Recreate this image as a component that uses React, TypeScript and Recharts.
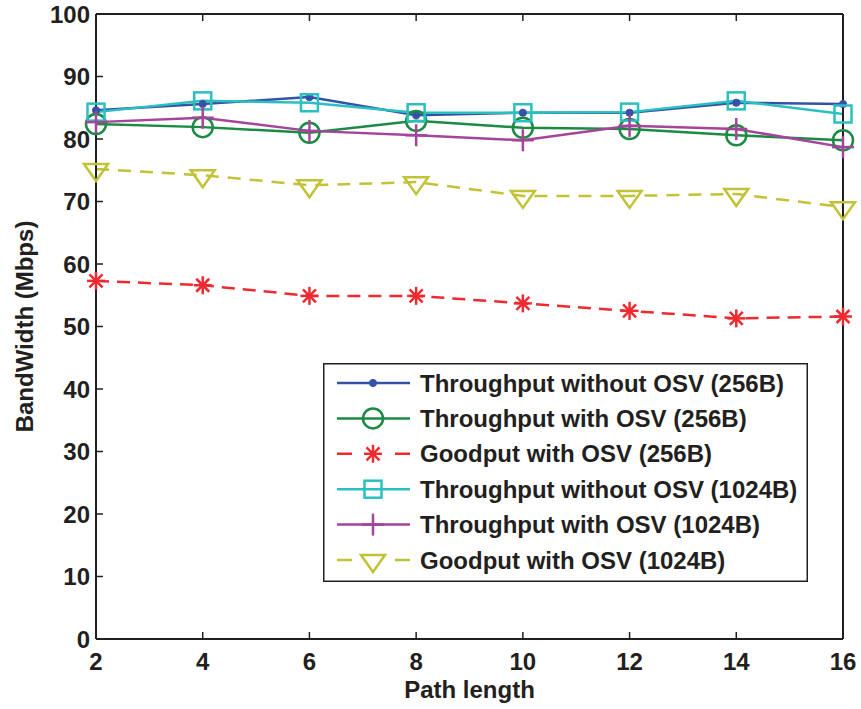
import React from 'react';
import { LineChart, Line, XAxis, YAxis, Legend } from 'recharts';

const pathLength = [2, 4, 6, 8, 10, 12, 14, 16];
const xTicks = [2, 4, 6, 8, 10, 12, 14, 16];
const yTicks = [0, 10, 20, 30, 40, 50, 60, 70, 80, 90, 100];

const tputNoOsv256 = [84.6, 85.6, 86.7, 83.8, 84.2, 84.2, 85.8, 85.6];
const tputOsv256 = [82.4, 81.9, 81.0, 82.9, 81.8, 81.6, 80.6, 79.8];
const goodOsv256 = [57.3, 56.6, 54.9, 54.9, 53.7, 52.5, 51.3, 51.6];
const tputNoOsv1024 = [84.3, 86.1, 85.8, 84.2, 84.2, 84.3, 86.1, 84.0];
const tputOsv1024 = [82.7, 83.4, 81.3, 80.6, 79.8, 82.1, 81.6, 78.7];
const goodOsv1024 = [75.2, 74.2, 72.6, 73.1, 70.9, 70.9, 71.2, 69.1];

const data = pathLength.map((p, i) => ({
  p,
  a: tputNoOsv256[i],
  b: tputOsv256[i],
  c: goodOsv256[i],
  d: tputNoOsv1024[i],
  e: tputOsv1024[i],
  f: goodOsv1024[i],
}));

const series = [
  { key: 'a', name: 'Throughput without OSV (256B)', color: '#3553a6', shape: 'dot', dash: undefined },
  { key: 'b', name: 'Throughput with OSV (256B)', color: '#1b8a43', shape: 'circle', dash: undefined },
  { key: 'c', name: 'Goodput with OSV (256B)', color: '#ee2a30', shape: 'star', dash: '13 8' },
  { key: 'd', name: 'Throughput without OSV (1024B)', color: '#2bbfc1', shape: 'square', dash: undefined },
  { key: 'e', name: 'Throughput with OSV (1024B)', color: '#a5449b', shape: 'plus', dash: undefined },
  { key: 'f', name: 'Goodput with OSV (1024B)', color: '#c2c236', shape: 'tri', dash: '13 9' },
];

const ink = '#231f20';
const font = '"Liberation Sans", Arial, Helvetica, sans-serif';

function marker(shape: string, cx: number, cy: number, color: string, key?: any) {
  const sw = 2.5;
  switch (shape) {
    case 'dot':
      return <circle key={key} cx={cx} cy={cy} r={3.6} fill={color} stroke={color} strokeWidth={1} />;
    case 'circle':
      return <circle key={key} cx={cx} cy={cy} r={10} fill="none" stroke={color} strokeWidth={sw} />;
    case 'square':
      return <rect key={key} x={cx - 8.5} y={cy - 8.5} width={17} height={17} fill="none" stroke={color} strokeWidth={sw} />;
    case 'plus':
      return (
        <g key={key} stroke={color} strokeWidth={sw}>
          <line x1={cx} y1={cy - 11} x2={cx} y2={cy + 11} />
          <line x1={cx - 11} y1={cy} x2={cx + 11} y2={cy} />
        </g>
      );
    case 'star':
      return (
        <g key={key} stroke={color} strokeWidth={sw}>
          <line x1={cx} y1={cy - 9} x2={cx} y2={cy + 9} />
          <line x1={cx - 9} y1={cy} x2={cx + 9} y2={cy} />
          <line x1={cx - 6.5} y1={cy - 6.5} x2={cx + 6.5} y2={cy + 6.5} />
          <line x1={cx - 6.5} y1={cy + 6.5} x2={cx + 6.5} y2={cy - 6.5} />
        </g>
      );
    case 'tri':
      return (
        <polygon
          key={key}
          points={`${cx - 12},${cy - 5} ${cx + 12},${cy - 5} ${cx},${cy + 12}`}
          fill="none"
          stroke={color}
          strokeWidth={sw}
          strokeLinejoin="miter"
        />
      );
    default:
      return <g key={key} />;
  }
}

const tickStyle = { fill: ink, fontSize: 24, fontWeight: 700, fontFamily: font };

const LegendBox = () => {
  const rowY = [20, 55.4, 90.8, 126.2, 161.6, 197];
  return (
    <svg width={485} height={219} style={{ display: 'block' }}>
      <rect x={0.75} y={0.75} width={483.5} height={217.5} fill="#fff" stroke={ink} strokeWidth={1.5} />
      {series.map((s, i) => (
        <g key={s.key}>
          <line
            x1={14}
            y1={rowY[i]}
            x2={87}
            y2={rowY[i]}
            stroke={s.color}
            strokeWidth={2.5}
            strokeDasharray={s.dash ? '15 43' : undefined}
          />
          {marker(s.shape, 50, rowY[i], s.color)}
          <text x={97} y={rowY[i] + 8.5} fill={ink} fontSize={24} fontWeight={700} fontFamily={font}>
            {s.name}
          </text>
        </g>
      ))}
    </svg>
  );
};

export default function App() {
  return (
    <div style={{ position: 'absolute', left: 0, top: 0, background: '#fff' }}>
      <LineChart width={861} height={709} data={data} margin={{ top: 13, right: 0, bottom: 0, left: 0 }}>
        <XAxis
          dataKey="p"
          type="number"
          domain={[2, 16]}
          ticks={xTicks}
          height={70}
          tickSize={-7}
          tickMargin={21}
          tick={tickStyle}
          axisLine={{ stroke: ink, strokeWidth: 2 }}
          tickLine={{ stroke: ink, strokeWidth: 1.5 }}
          label={{ value: 'Path length', position: 'insideBottom', offset: 11, fill: ink, fontSize: 24, fontWeight: 700, fontFamily: font }}
        />
        <XAxis
          xAxisId="top"
          orientation="top"
          dataKey="p"
          type="number"
          domain={[2, 16]}
          ticks={xTicks}
          height={1}
          tickSize={-7}
          tick={() => <g />}
          axisLine={{ stroke: ink, strokeWidth: 2 }}
          tickLine={{ stroke: ink, strokeWidth: 1.5 }}
        />
        <YAxis
          type="number"
          domain={[0, 100]}
          ticks={yTicks}
          width={96}
          tickSize={-7}
          tickMargin={13}
          tick={tickStyle}
          axisLine={{ stroke: ink, strokeWidth: 2 }}
          tickLine={{ stroke: ink, strokeWidth: 1.5 }}
          label={{
            value: 'BandWidth (Mbps)',
            angle: -90,
            position: 'insideLeft',
            offset: 24,
            fill: ink,
            fontSize: 24,
            fontWeight: 700,
            fontFamily: font,
            style: { textAnchor: 'middle' },
          }}
        />
        <YAxis
          yAxisId="right"
          orientation="right"
          type="number"
          domain={[0, 100]}
          ticks={yTicks}
          width={18}
          tickSize={-7}
          tick={() => <g />}
          axisLine={{ stroke: ink, strokeWidth: 2 }}
          tickLine={{ stroke: ink, strokeWidth: 1.5 }}
        />
        {series.map((s) => (
          <Line
            key={s.key}
            dataKey={s.key}
            name={s.name}
            stroke={s.color}
            strokeWidth={2.5}
            strokeDasharray={s.dash}
            type="linear"
            isAnimationActive={false}
            dot={(props: any) => marker(s.shape, props.cx, props.cy, s.color, props.key ?? `${s.key}-${props.index}`)}
            activeDot={false}
          />
        ))}
        <Legend
          layout="horizontal"
          verticalAlign="middle"
          align="center"
          content={() => <LegendBox />}
          wrapperStyle={{ left: 323, top: 363, width: 485, height: 219 }}
        />
      </LineChart>
    </div>
  );
}
